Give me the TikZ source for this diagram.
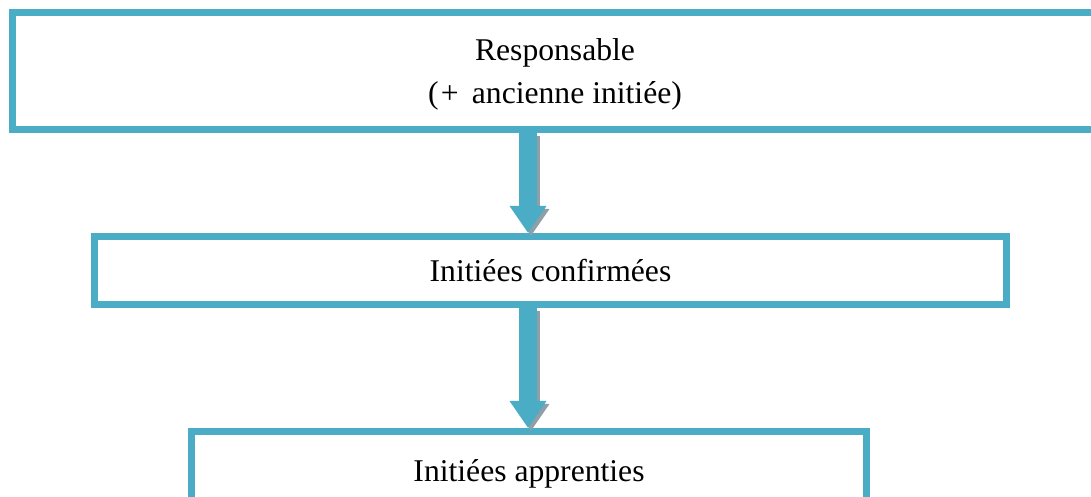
\documentclass[tikz,border=0pt]{standalone}
\usepackage{fontspec}
\setmainfont{Liberation Serif}
\usetikzlibrary{arrows.meta}

\definecolor{boxblue}{HTML}{4BACC6}
\definecolor{shadowgray}{HTML}{8E9FA8}

\tikzset{
    box/.style={draw=boxblue, line width=0.175cm, rectangle, align=center,
        font=\fontsize{22.5}{30.6}\selectfont},
    flow/.style={color=boxblue, line width=0.45cm,
        -{Triangle[width=0.875cm,length=0.675cm]}},
    flowshadow/.style={flow, color=shadowgray,
        transform canvas={shift={(3,3)}}}
}

\begin{document}
\begin{tikzpicture}[x=0.025cm,y=-0.025cm]
    \useasboundingbox (0,0) rectangle (1091,497);

    %%%%%%%%%%%%%%%%%%%%%%%%%%%%%%%%%%%%%%%%%%%%%%%%%%%%%%

    % head of the group
    \node[box, minimum width=27.125cm, minimum height=2.925cm, text depth=0pt]
        (responsable) at (555,71) {Responsable\\(\kern0.07em+\ \,ancienne initiée)};

    % confirmed members
    \node[box, minimum width=22.8cm, minimum height=1.7cm]
        (confirmees) at (550.5,270.5) {Initiées confirmées};

    % apprentices
    \node[box, minimum width=16.875cm, minimum height=2.1cm]
        (apprenties) at (529,473.5) {Initiées apprenties};

    %%%%%%%%%%%%%%%%%%%%%%%%%%%%%%%%%%%%%%%%%%%%%%%%%%%%%%

    % column of the arrows
    \coordinate (col) at (528,0);

    % responsable -> confirmees
    \draw[flowshadow] (responsable.south -| col) -- (confirmees.north -| col);
    \draw[flow] (responsable.south -| col) -- (confirmees.north -| col);

    % confirmees -> apprenties
    \draw[flowshadow] (confirmees.south -| col) -- (apprenties.north -| col);
    \draw[flow] (confirmees.south -| col) -- (apprenties.north -| col);

\end{tikzpicture}
\end{document}
